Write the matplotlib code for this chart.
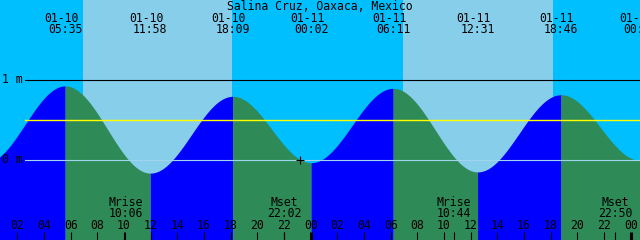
import numpy as np
import matplotlib
matplotlib.use("Agg")
import matplotlib.pyplot as plt

# ---------------- data ----------------
title = "Salina Cruz, Oaxaca, Mexico"
tide_times = ["01-09 23:36", "01-10 05:35", "01-10 11:58", "01-10 18:09",
              "01-11 00:02", "01-11 06:11", "01-11 12:31", "01-11 18:46",
              "01-12 00:42"]
tide_levels = [-0.04, 0.92, -0.17, 0.79, -0.04, 0.89, -0.155, 0.81, -0.01]
sunrise = ["01-10 06:55", "01-11 06:55"]
sunset = ["01-10 18:06", "01-11 18:10"]
moon_times = ["01-10 10:06", "01-10 22:02", "01-11 10:44", "01-11 22:50"]
moon_kinds = ["Mrise", "Mset", "Mrise", "Mset"]
mean_level = 0.49
now_time = "01-10 23:12"
now_level = 0.0
tick_hours = list(range(2, 49, 2))
tick_labels = ["%02d" % (h % 24) for h in tick_hours]
level_marks = [1, 0]
level_labels = ["1 m", "0 m"]


def hrs(s):
    d, t = s.split()
    day = int(d.split("-")[1])
    hh, mm = t.split(":")
    return (day - 10) * 24 + int(hh) + int(mm) / 60.0


# ---------------- style ----------------
NIGHT = "#00BFFF"
DAY = "#87CEEB"
FLOOD = "#0000FF"
EBB = "#2E8B57"
FONT = "DejaVu Sans Mono"
FS = 8.3
W, H = 640, 240
X0, X1 = 0.7, 48.7
Y0, Y1 = -1.006, 1.994

fig = plt.figure(figsize=(6.4, 2.4), dpi=100)
ax = fig.add_axes([0, 0, 1, 1])
ax.set_xlim(X0, X1)
ax.set_ylim(Y0, Y1)
ax.axis("off")
fig.patch.set_facecolor(NIGHT)
ax.add_patch(plt.Rectangle((0, 0), 1, 1, transform=ax.transAxes,
                           color=NIGHT, zorder=0))

for sr, ss in zip(sunrise, sunset):
    ax.axvspan(hrs(sr), hrs(ss), color=DAY, lw=0, zorder=1)

# tide curve
th = [hrs(s) for s in tide_times]
for i in range(len(th) - 1):
    t0, t1 = th[i], th[i + 1]
    l0, l1 = tide_levels[i], tide_levels[i + 1]
    tt = np.linspace(t0, t1, 300)
    lv = l0 + (l1 - l0) * (1 - np.cos(np.pi * (tt - t0) / (t1 - t0))) / 2
    ax.fill_between(tt, Y0, lv, color=FLOOD if l1 > l0 else EBB,
                    lw=0, zorder=2)

px = (X1 - X0) / W  # hours per pixel
xstart = X0 + 25 * px

# level lines
ax.plot([xstart, X1], [1, 1], color="black", lw=0.8, zorder=3)
ax.plot([xstart, X1], [0, 0], color="#9FD5EE", lw=0.8, zorder=3)
ax.plot([xstart, X1], [mean_level, mean_level], color="#FFFF00", lw=1.0, zorder=3)
for lv, lb in zip(level_marks, level_labels):
    ax.text(X0 + 2 * px, lv, lb, fontfamily=FONT, fontsize=FS,
            ha="left", va="center", zorder=5)

ax.plot([hrs(now_time)], [now_level], marker="+", color="black",
        markersize=6, mew=0.8, zorder=5)

xt = ax.get_xaxis_transform()


def fy(ypx):
    return 1 - ypx / H


# title
ax.text(0.5, fy(10), title, transform=ax.transAxes, fontfamily=FONT,
        fontsize=FS, ha="center", va="baseline", zorder=5)

# tide event labels
for s in tide_times[1:]:
    t = hrs(s)
    d, tm = s.split()
    ax.text(t - 4 * px, fy(21.7), d, transform=xt, fontfamily=FONT,
            fontsize=FS, ha="center", va="baseline", zorder=5)
    ax.text(t, fy(33.3), tm, transform=xt, fontfamily=FONT,
            fontsize=FS, ha="center", va="baseline", zorder=5)

# moon labels and ticks
for s, k in zip(moon_times, moon_kinds):
    t = hrs(s)
    ax.text(t, fy(205.5), k, transform=xt, fontfamily=FONT, fontsize=FS,
            ha="center", va="baseline", zorder=5)
    ax.text(t, fy(217.3), s.split()[1], transform=xt, fontfamily=FONT,
            fontsize=FS, ha="center", va="baseline", zorder=5)
    ax.vlines(t, fy(240), fy(232), transform=xt, color="black", lw=0.8,
              zorder=5)

# hour ticks
for h, lb in zip(tick_hours, tick_labels):
    lw = 2.2 if h % 24 == 0 else 0.8
    ax.vlines(h, fy(240), fy(232), transform=xt, color="black", lw=lw,
              zorder=5)
    ax.text(h, fy(229.3), lb, transform=xt, fontfamily=FONT, fontsize=FS,
            ha="center", va="baseline", zorder=5)

fig.savefig("out.png", dpi=100, facecolor=NIGHT)
